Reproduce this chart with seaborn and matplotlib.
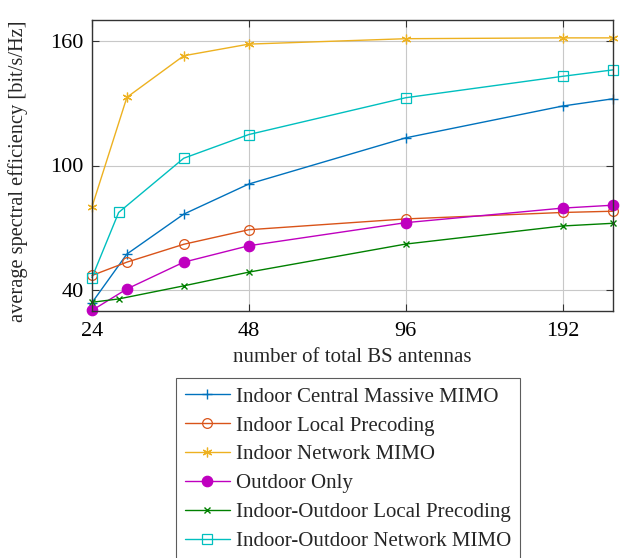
import matplotlib
matplotlib.use("Agg")
import matplotlib.pyplot as plt
import seaborn as sns
import pandas as pd
import numpy as np
from matplotlib.ticker import FixedLocator, NullLocator, FixedFormatter

sns.set_theme(style="white")
plt.rcParams['font.family'] = ['Liberation Serif', 'DejaVu Serif']
plt.rcParams['mathtext.fontset'] = 'stix'

# data
x_a = [24, 28, 36, 48, 96, 192, 240]
x_b = [24, 27, 36, 48, 96, 192, 240]
central = [34.0, 57.4, 76.6, 91.1, 113.3, 128.6, 132.1]
local = [47.1, 53.5, 62.1, 69.1, 74.3, 77.4, 78.0]
network = [80.1, 132.8, 152.8, 158.4, 161.0, 161.4, 161.4]
outdoor = [30.3, 40.6, 53.5, 61.4, 72.5, 79.5, 80.9]
io_local = [34.2, 35.8, 42.1, 48.7, 62.2, 70.9, 72.2]
io_network = [46.1, 77.4, 103.5, 114.9, 132.6, 142.9, 146.0]

names = ["Indoor Central Massive MIMO", "Indoor Local Precoding", "Indoor Network MIMO",
         "Outdoor Only", "Indoor-Outdoor Local Precoding", "Indoor-Outdoor Network MIMO"]
xs = [x_a, x_a, x_a, x_a, x_b, x_b]
ys = [central, local, network, outdoor, io_local, io_network]

xticks = [24, 48, 96, 192]
yticks = [40, 100, 160]

colors = ["#0072BD", "#D95319", "#EDB120", "#BF00BF", "#008000", "#00BFBF"]
styles = [
    dict(marker="+", markersize=7.5, markeredgewidth=1.0, markerfacecolor="none"),
    dict(marker="o", markersize=7, markeredgewidth=0.9, markerfacecolor="none"),
    dict(marker=(6, 2, 0), markersize=7, markeredgewidth=0.9),
    dict(marker="o", markersize=7.5, markeredgewidth=0.9),
    dict(marker="x", markersize=5, markeredgewidth=1.0, markerfacecolor="none"),
    dict(marker="s", markersize=6.5, markeredgewidth=0.9, markerfacecolor="none"),
]

fig = plt.figure(figsize=(6.23, 5.58), dpi=100)
ax = fig.add_axes([92/623, 1-311/558, (613-92)/623, (311-20)/558])

for name, xv, yv, c, st in zip(names, xs, ys, colors, styles):
    df = pd.DataFrame({"x": xv, "y": yv})
    kw = dict(st)
    if kw.get("markerfacecolor") is None:
        kw["markerfacecolor"] = c
    sns.lineplot(data=df, x="x", y="y", ax=ax, color=c, linewidth=1.0,
                 markeredgecolor=c, label=name, legend=False, clip_on=False,
                 zorder=3, **kw)

ax.set_xscale("log", base=2)
ax.set_xlim(24, 240)
ax.set_ylim(30, 170)
ax.xaxis.set_major_locator(FixedLocator(xticks))
ax.xaxis.set_major_formatter(FixedFormatter([str(t) for t in xticks]))
ax.xaxis.set_minor_locator(NullLocator())
ax.set_yticks(yticks)
ax.set_yticklabels([str(t) for t in yticks])
ax.grid(True, color="#c8c8c8", linewidth=0.8)
ax.set_axisbelow(True)
ax.tick_params(axis="both", direction="in", length=5, width=0.8, colors="#333333",
               labelcolor="black", labelsize=16, top=True, right=True, bottom=True, left=True,
               pad=6)
ax.tick_params(axis="x", pad=8)
for s in ax.spines.values():
    s.set_color("#333333")
    s.set_linewidth(1.0)
    s.set_zorder(4)

ax.set_xlabel("number of total BS antennas", fontsize=15)
ax.set_ylabel("average spectral efficiency [bit/s/Hz]", fontsize=14.7)
ax.xaxis.set_label_coords((352.5-92)/(613-92), -(357-311)/(311-20))
ax.yaxis.set_label_coords(-(92-18)/(613-92), (311-171)/(311-20))
ax.xaxis.label.set_va("center")
ax.yaxis.label.set_va("center")

handles, labels = ax.get_legend_handles_labels()
leg = fig.legend(handles, labels, loc="upper left", bbox_to_anchor=(176/623, 1-378/558),
                 fontsize=15, frameon=True, fancybox=False, edgecolor="#333333",
                 handlelength=2.16, labelspacing=0.45, borderpad=0.43, handletextpad=0.3,
                 borderaxespad=0)
leg.get_frame().set_linewidth(0.8)

fig.savefig("out.png", dpi=100)
